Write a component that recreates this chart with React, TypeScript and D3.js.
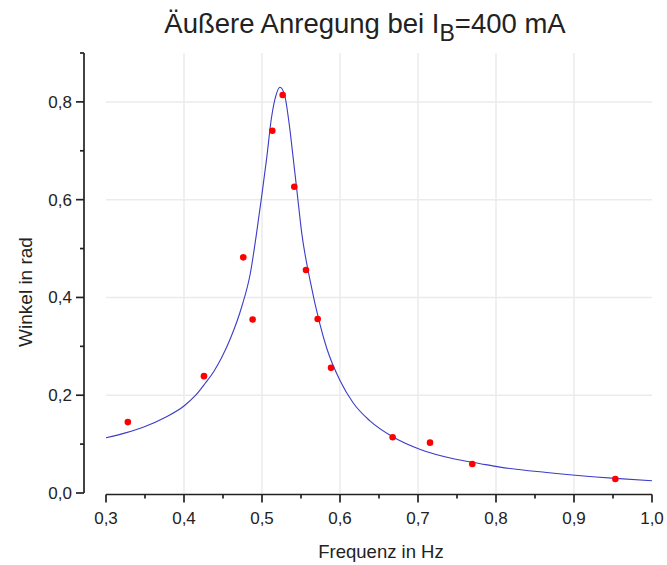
import React from "react";
import * as d3 from "d3";

const pointX = [0.328, 0.4256, 0.476, 0.488, 0.5132, 0.5265, 0.5414, 0.5564, 0.5714, 0.5885, 0.6675, 0.7154, 0.7696, 0.953];
const pointY = [0.145, 0.239, 0.482, 0.355, 0.741, 0.814, 0.6265, 0.456, 0.356, 0.256, 0.114, 0.103, 0.0593, 0.0286];

const fitX = [0.3, 0.325, 0.35, 0.375, 0.4, 0.415, 0.427, 0.438, 0.448, 0.46, 0.474, 0.485, 0.493, 0.5, 0.506, 0.512, 0.518, 0.523, 0.529, 0.535, 0.54, 0.545, 0.551, 0.5615, 0.574, 0.583, 0.6, 0.617, 0.638, 0.6675, 0.703, 0.7455, 0.78, 0.805, 0.865, 0.953, 1.0];
const fitY = [0.113, 0.123, 0.136, 0.154, 0.178, 0.2, 0.224, 0.248, 0.276, 0.318, 0.381, 0.449, 0.531, 0.612, 0.685, 0.766, 0.814, 0.83, 0.814, 0.753, 0.685, 0.615, 0.531, 0.436, 0.347, 0.296, 0.23, 0.184, 0.148, 0.115, 0.089, 0.07, 0.06, 0.053, 0.042, 0.03, 0.025];

const xMajor = [0.3, 0.4, 0.5, 0.6, 0.7, 0.8, 0.9, 1.0];
const xMinor = [0.35, 0.45, 0.55, 0.65, 0.75, 0.85, 0.95];
const yMajor = [0, 0.2, 0.4, 0.6, 0.8];
const yMinor = [0.1, 0.3, 0.5, 0.7, 0.9];
const xGrid = [0.4, 0.5, 0.6, 0.7, 0.8, 0.9];
const yGrid = [0.2, 0.4, 0.6, 0.8];

const fmt = (v: number) => v.toFixed(1).replace(".", ",");

export default function App() {
  const W = 667, H = 565;
  const x = d3.scaleLinear().domain([0.3, 1.0]).range([106, 652]);
  const y = d3.scaleLinear().domain([0, 0.9]).range([493, 53]);
  const yAxisX = 84;
  const xAxisY = 494.5;
  const font = "'Liberation Sans', Arial, sans-serif";
  const ink = "#222";

  const line = d3
    .line<number>()
    .x((_, i) => x(fitX[i]))
    .y((_, i) => y(fitY[i]))
    .curve(d3.curveMonotoneX);

  return (
    <svg width={W} height={H} style={{ position: "absolute", left: 0, top: 0, background: "#fff" }} fontFamily={font}>
      <rect width={W} height={H} fill="#fff" />
      {/* grid */}
      {xGrid.map((v) => (
        <line key={"gx" + v} x1={x(v)} x2={x(v)} y1={y(0.9)} y2={y(0)} stroke="#ebebeb" strokeWidth={1.5} />
      ))}
      {yGrid.map((v) => (
        <line key={"gy" + v} x1={x(0.3)} x2={x(1.0)} y1={y(v)} y2={y(v)} stroke="#ebebeb" strokeWidth={1.5} />
      ))}
      {/* fit curve */}
      <path d={line(fitX) || ""} fill="none" stroke="#3c3cc8" strokeWidth={1.1} />
      {/* points */}
      {pointX.map((v, i) => (
        <circle key={"p" + i} cx={x(v)} cy={y(pointY[i])} r={3.3} fill="#ff0000" />
      ))}
      {/* y axis */}
      <line x1={yAxisX} x2={yAxisX} y1={y(0.9)} y2={y(0)} stroke={ink} strokeWidth={1.7} />
      {yMajor.map((v) => (
        <g key={"ym" + v}>
          <line x1={yAxisX - 8} x2={yAxisX} y1={y(v)} y2={y(v)} stroke={ink} strokeWidth={1.7} />
          <text x={yAxisX - 12} y={y(v)} dy="0.35em" textAnchor="end" fontSize={17} fill={ink}>
            {fmt(v)}
          </text>
        </g>
      ))}
      {yMinor.map((v) => (
        <line key={"yn" + v} x1={yAxisX - 4} x2={yAxisX} y1={y(v)} y2={y(v)} stroke={ink} strokeWidth={1.7} />
      ))}
      {/* x axis */}
      <line x1={x(0.3)} x2={x(1.0)} y1={xAxisY} y2={xAxisY} stroke={ink} strokeWidth={1.7} />
      {xMajor.map((v) => (
        <g key={"xm" + v}>
          <line x1={x(v)} x2={x(v)} y1={xAxisY} y2={xAxisY + 8} stroke={ink} strokeWidth={1.7} />
          <text x={x(v)} y={xAxisY + 29} textAnchor="middle" fontSize={17} fill={ink}>
            {fmt(v)}
          </text>
        </g>
      ))}
      {xMinor.map((v) => (
        <line key={"xn" + v} x1={x(v)} x2={x(v)} y1={xAxisY} y2={xAxisY + 4} stroke={ink} strokeWidth={1.7} />
      ))}
      {/* axis titles */}
      <text x={(x(0.3) + x(1.0)) / 2 + 2} y={558} textAnchor="middle" fontSize={18.5} fill={ink}>
        Frequenz in Hz
      </text>
      <text transform={`translate(32, ${(y(0) + y(0.9)) / 2 + 19}) rotate(-90)`} textAnchor="middle" fontSize={19} fill={ink}>
        Winkel in rad
      </text>
      {/* title */}
      <text x={365} y={33} textAnchor="middle" fontSize={27.5} fill={ink}>
        Äußere Anregung bei I
        <tspan fontSize={23} dy={8}>B</tspan>
        <tspan dy={-8}>=400 mA</tspan>
      </text>
    </svg>
  );
}
